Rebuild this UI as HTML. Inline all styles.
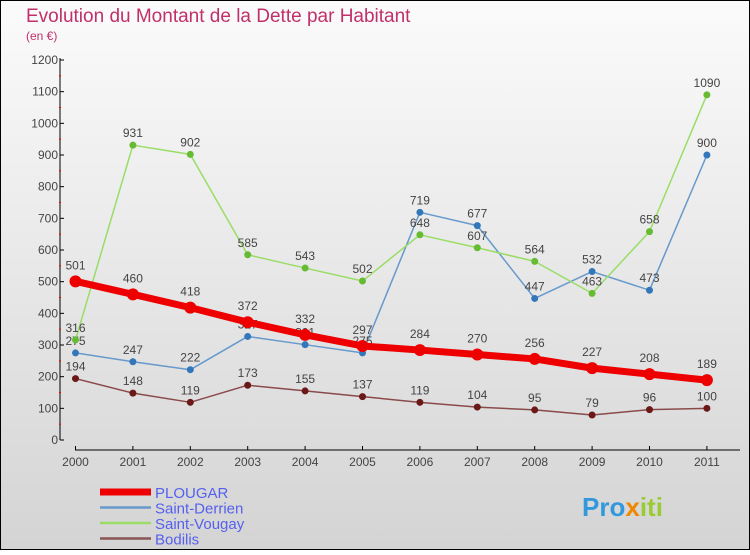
<!DOCTYPE html>
<html><head><meta charset="utf-8"><style>
html,body{margin:0;padding:0}
body{width:750px;height:550px;overflow:hidden;font-family:"Liberation Sans",sans-serif}
</style></head><body>
<svg id="chart" width="750" height="550" xmlns="http://www.w3.org/2000/svg">
<defs><linearGradient id="bg" x1="0" y1="0" x2="0" y2="1"><stop offset="0" stop-color="#fbfbfb"/><stop offset="1" stop-color="#d4d4d4"/></linearGradient></defs>
<rect x="0.5" y="0.5" width="749" height="549" fill="url(#bg)" stroke="#000"/>
<text x="26" y="22" font-size="19" fill="#c0306a">Evolution du Montant de la Dette par Habitant</text>
<text x="26" y="40" font-size="12" fill="#c0306a">(en €)</text>
<g id="axes"></g><g id="series"></g><g id="legend"></g>
<text x="582" y="516" font-size="26" font-weight="bold" fill="#3399dd">Pro<tspan fill="#ee8800">x</tspan><tspan fill="#99cc33">iti</tspan></text>
</svg>
<script>
const years=["2000","2001","2002","2003","2004","2005","2006","2007","2008","2009","2010","2011"];
const plougar=[501,460,418,372,332,297,284,270,256,227,208,189];
const derrien=[275,247,222,327,301,275,719,677,447,532,473,900];
const vougay=[316,931,902,585,543,502,648,607,564,463,658,1090];
const bodilis=[194,148,119,173,155,137,119,104,95,79,96,100];
const yTicks=[0,100,200,300,400,500,600,700,800,900,1000,1100,1200];
const NS="http://www.w3.org/2000/svg";
const xs=i=>75.5+i*57.4;
const ys=v=>440-v*380/1200;
function mk(tag,at,parent,txt){const e=document.createElementNS(NS,tag);for(const k in at)e.setAttribute(k,at[k]);if(txt!==undefined)e.textContent=txt;parent.appendChild(e);return e;}
const ax=document.getElementById('axes');
let e=mk('line',{x1:60,y1:58,x2:60,y2:440,stroke:'#000'},ax);


e=mk('line',{x1:75,y1:450,x2:740,y2:450,stroke:'#000'},ax);


yTicks.forEach((t,i)=>{
  const y=ys(t);
  mk('line',{x1:60,y1:y,x2:64,y2:y,stroke:'#000'},ax);
  if(i<yTicks.length-1)mk('line',{x1:59,y1:ys(t+50),x2:61,y2:ys(t+50),stroke:'#e00'},ax);
  const l=mk('text',{x:58,y:y+4,'font-size':12,'text-anchor':'end',fill:'#444'},ax,String(t));
  
  
});
years.forEach((yr,i)=>{
  mk('line',{x1:xs(i),y1:446,x2:xs(i),y2:450,stroke:'#000'},ax);
  const l=mk('text',{x:xs(i),y:466,'font-size':12,'text-anchor':'middle',fill:'#444'},ax,yr);
  
  
});
const sg=document.getElementById('series');
function drawSeries(name,vals,color,dot,w,r,labelDy){
  const g=mk('g',{},sg);
  
  
  const p=mk('polyline',{points:vals.map((v,i)=>xs(i)+','+ys(v)).join(' '),fill:'none',stroke:color,'stroke-width':w,'stroke-linejoin':'round'},g);
  
  
  vals.forEach((v,i)=>{
    const c=mk('circle',{cx:xs(i),cy:ys(v),r:r,fill:dot},g);
    
    
    const t=mk('text',{x:xs(i),y:ys(v)+labelDy,'font-size':12,'text-anchor':'middle',fill:'#444'},g,String(v));
    
    
  });
}
drawSeries('bodilis',bodilis,'#8a4a4a','#6a1818',1.5,3.5,-8);
drawSeries('saint-derrien',derrien,'#6699cc','#3377bb',1.5,3.5,-8);
drawSeries('saint-vougay',vougay,'#99dd66','#66bb33',1.5,3.5,-8);
drawSeries('plougar',plougar,'#ee0000','#ee0000',7,6,-12);
const lg=document.getElementById('legend');
const leg=[['PLOUGAR','#ee0000',7],['Saint-Derrien','#6699cc',2.5],['Saint-Vougay','#99dd66',2.5],['Bodilis','#8a5555',2.5]];
leg.forEach((d,i)=>{
  const y=492+i*15.5;
  const g=mk('g',{},lg);
  
  
  mk('line',{x1:100,y1:y,x2:151,y2:y,stroke:d[1],'stroke-width':d[2]},g);
  mk('text',{x:155,y:y+6,'font-size':15,fill:'#5560ee'},g,d[0]);
});
</script>
</body></html>
